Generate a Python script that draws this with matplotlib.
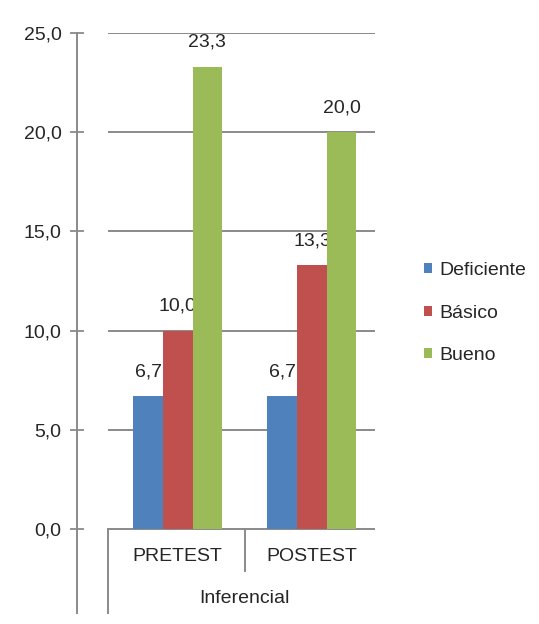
import numpy as np
import matplotlib.pyplot as plt
from matplotlib.ticker import FuncFormatter

categories = ["PRETEST", "POSTEST"]
group_label = "Inferencial"
series_names = ["Deficiente", "Básico", "Bueno"]
deficiente = [6.7, 6.7]
basico = [10.0, 13.3]
bueno = [23.3, 20.0]
y_ticks = [0, 5, 10, 15, 20, 25]

colors = ["#4F81BD", "#C0504D", "#9BBB59"]
grid_col = "#8a8a8a"
text_col = "#262626"
fs = 14

plt.rcParams["font.family"] = ["Liberation Sans", "DejaVu Sans"]

fig = plt.figure(figsize=(5.39, 6.24), dpi=100)
ax = fig.add_axes([108 / 539, 11 / 624, 267 / 539, 580 / 624])

x = np.arange(len(categories))
width = 0.221

for i, (name, vals) in enumerate(zip(series_names, [deficiente, basico, bueno])):
    bars = ax.bar(x + (i - 1) * width, vals, width, color=colors[i],
                  label=name, zorder=3)
    for b, v in zip(bars, vals):
        ax.annotate(f"{v:.1f}".replace(".", ","),
                    (b.get_x() + b.get_width() / 2, v),
                    xytext=(0, 11.5), textcoords="offset points",
                    ha="center", va="bottom", fontsize=fs, color=text_col)

ax.set_xlim(-0.52, 1.47)
ax.set_ylim(-4.234, 25)

ax.set_yticks(y_ticks)
ax.yaxis.set_major_formatter(FuncFormatter(lambda v, p: f"{v:.1f}".replace(".", ",")))
ax.tick_params(axis="y", direction="inout", length=9.4, width=1.3,
               color=grid_col, pad=6.5, labelsize=fs, labelcolor=text_col)
ax.set_xticks([])

for v in y_ticks:
    ax.axhline(v, color=grid_col, linewidth=1.4, zorder=1)

for s in ["top", "right", "bottom"]:
    ax.spines[s].set_visible(False)
ax.spines["left"].set_position(("outward", 22.3))
ax.spines["left"].set_color(grid_col)
ax.spines["left"].set_linewidth(1.4)

# category axis boxes below zero
ax.plot([-0.52, -0.52], [0, -4.234], color=grid_col, linewidth=1.4, clip_on=False)
ax.plot([0.5, 0.5], [0, -2.1], color=grid_col, linewidth=1.4, clip_on=False)

for xi, c in zip(x, categories):
    ax.text(xi, -1.41, c, ha="center", va="center", fontsize=fs, color=text_col)
ax.text(0.5, -3.48, group_label, ha="center", va="center", fontsize=fs, color=text_col)

fig.legend(loc="center left", bbox_to_anchor=(424 / 539, 1 - 313 / 624),
           frameon=False, fontsize=fs, handlelength=0.42, handleheight=0.42,
           handletextpad=0.35, labelspacing=1.3, labelcolor=text_col,
           borderaxespad=0, borderpad=0)

plt.savefig("out.png", dpi=100)
plt.close()
